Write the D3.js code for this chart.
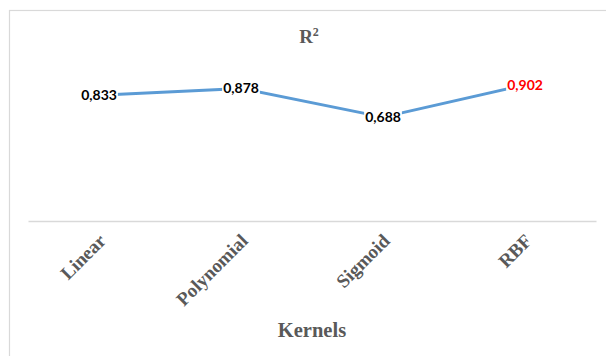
<!DOCTYPE html>
<html>
<head>
<meta charset="utf-8">
<script src="https://cdn.jsdelivr.net/npm/d3@7"></script>
<style>
  html, body { margin: 0; padding: 0; background: #fff; }
  svg { display: block; }
</style>
</head>
<body>
<svg id="chart" width="606" height="356"></svg>
<script>
// R² score per SVM kernel
const kernels = ["Linear", "Polynomial", "Sigmoid", "RBF"];
const r2Values = [0.833, 0.878, 0.688, 0.902];
const valueLabels = ["0,833", "0,878", "0,688", "0,902"];
const highlightKernel = "RBF";

const svg = d3.select("#chart");
const W = 606, H = 356;

// chart area frame
svg.append("rect")
  .attr("x", 9.5).attr("y", 10.5)
  .attr("width", W + 10).attr("height", H + 10)
  .attr("fill", "#fff")
  .attr("stroke", "#D9D9D9")
  .attr("stroke-width", 1.2);

const plot = { left: 28, right: 596, top: 70, bottom: 221 };

const x = d3.scaleBand()
  .domain(kernels)
  .range([plot.left, plot.right]);

const y = d3.scaleLinear()
  .domain([0, 1])
  .range([plot.bottom, plot.top]);

// category axis
const xAxis = d3.axisBottom(x).tickSize(0).tickPadding(0);
const gx = svg.append("g")
  .attr("transform", `translate(0,${plot.bottom})`)
  .call(xAxis);
gx.select(".domain")
  .attr("stroke", "#D9D9D9")
  .attr("stroke-width", 1.3);
gx.selectAll(".tick text")
  .attr("font-family", "'Liberation Serif', 'Times New Roman', serif")
  .attr("font-weight", "bold")
  .attr("font-size", 19)
  .attr("fill", "#595959")
  .attr("text-anchor", "end")
  .attr("dy", 0)
  .attr("y", 0)
  .attr("transform", "translate(8,21) rotate(-45)");

// title
svg.append("text")
  .attr("x", 309).attr("y", 43)
  .attr("text-anchor", "middle")
  .attr("font-family", "'Liberation Serif', 'Times New Roman', serif")
  .attr("font-weight", "bold")
  .attr("font-size", 19)
  .attr("fill", "#595959")
  .html('R<tspan font-size="12" dy="-7">2</tspan>');

// axis title
svg.append("text")
  .attr("x", 312).attr("y", 337)
  .attr("text-anchor", "middle")
  .attr("font-family", "'Liberation Serif', 'Times New Roman', serif")
  .attr("font-weight", "bold")
  .attr("font-size", 20.5)
  .attr("fill", "#595959")
  .text("Kernels");

const cx = k => x(k) + x.bandwidth() / 2;

// series line
const line = d3.line()
  .x((d, i) => cx(kernels[i]))
  .y(d => y(d));

svg.append("path")
  .datum(r2Values)
  .attr("d", line)
  .attr("fill", "none")
  .attr("stroke", "#5B9BD5")
  .attr("stroke-width", 3)
  .attr("stroke-linejoin", "round")
  .attr("stroke-linecap", "round");

// data labels, centred on each point over a white box
const labels = svg.append("g")
  .attr("font-family", "Lato, 'Noto Sans', sans-serif")
  .attr("font-weight", "bold")
  .attr("font-size", 14);

kernels.forEach((k, i) => {
  const g = labels.append("g")
    .attr("transform", `translate(${cx(k)},${y(r2Values[i])})`);
  const t = g.append("text")
    .attr("text-anchor", "middle")
    .attr("dy", "0.36em")
    .attr("fill", k === highlightKernel ? "#FF0000" : "#000")
    .text(valueLabels[i]);
  const bb = t.node().getBBox();
  g.insert("rect", "text")
    .attr("x", bb.x - 1).attr("y", bb.y + 2)
    .attr("width", bb.width + 2).attr("height", bb.height - 4)
    .attr("fill", "#fff");
});
</script>
</body>
</html>
